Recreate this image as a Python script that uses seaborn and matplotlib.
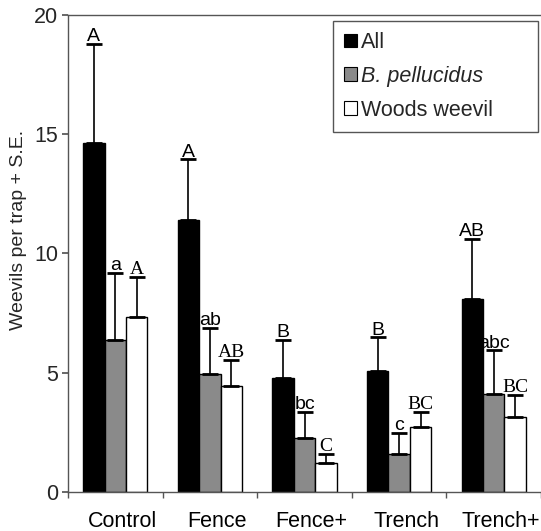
import numpy as np
import pandas as pd
import matplotlib
matplotlib.use("Agg")
import matplotlib.pyplot as plt
import matplotlib.transforms as mtransforms
from matplotlib.patches import Patch
import seaborn as sns

# values
groups = ["Control", "Fence", "Fence+", "Trench", "Trench+"]
series = ["All", "B. pellucidus", "Woods weevil"]
all_mean = [14.65, 11.4, 4.78, 5.08, 8.1]
all_se = [4.13, 2.55, 1.61, 1.40, 2.52]
bp_mean = [6.39, 4.94, 2.26, 1.61, 4.09]
bp_se = [2.81, 1.94, 1.09, 0.88, 1.85]
ww_mean = [7.32, 4.45, 1.23, 2.74, 3.15]
ww_se = [1.70, 1.10, 0.37, 0.63, 0.91]
all_letters = ["A", "A", "B", "B", "AB"]
bp_letters = ["a", "ab", "bc", "c", "abc"]
ww_letters = ["A", "AB", "C", "BC", "BC"]

ses = [all_se, bp_se, ww_se]
letters = [all_letters, bp_letters, ww_letters]

df = pd.DataFrame({
    "group": np.tile(groups, 3),
    "series": np.repeat(series, len(groups)),
    "mean": all_mean + bp_mean + ww_mean,
})

sns.set_theme(style="ticks")
plt.rcParams["font.family"] = ["Liberation Sans", "DejaVu Sans"]

colors = ["#000000", "#8a8a8a", "#ffffff"]
fig = plt.figure(figsize=(5.41, 5.31), dpi=100)
ax = fig.add_axes([0.1257, 0.0734, 0.8743, 0.8984])

sns.barplot(data=df, x="group", y="mean", hue="series", order=groups,
            hue_order=series, palette=colors, width=0.68, gap=0,
            errorbar=None, edgecolor="black", linewidth=1.0,
            saturation=1, legend=False, ax=ax)

label_font = [dict(family="Liberation Sans", size=14),
              dict(family="Liberation Sans", size=14),
              dict(family="Liberation Serif", size=14)]

# copy first: errorbar() adds its own containers
bar_conts = list(ax.containers)
for k, cont in enumerate(bar_conts):
    xs = [b.get_x() + b.get_width() / 2 for b in cont]
    hs = [b.get_height() for b in cont]
    ax.errorbar(xs, hs, yerr=[np.zeros(len(hs)), ses[k]], fmt="none",
                ecolor="black", elinewidth=1.2, capsize=6, capthick=2,
                zorder=3)
    for x, h, s, lab in zip(xs, hs, ses[k], letters[k]):
        ax.annotate(lab, (x, h + s), xytext=(0, 2), textcoords="offset points",
                    ha="center", va="baseline", color="black", **label_font[k])

ax.set_xlim(-0.5, 4.5)
ax.set_ylim(0, 20)
ax.set_yticks([0, 5, 10, 15, 20])
ax.set_xlabel("")
ax.set_ylabel("Weevils per trap + S.E.", fontsize=14)
ax.yaxis.set_label_coords(-0.087, 0.55)
ax.tick_params(axis="y", labelsize=15.5, length=4, color="#555555", pad=3)
ax.tick_params(axis="x", labelsize=15.5, length=0, pad=14, colors="black")
ax.set_xticks(np.arange(-0.5, 5.0, 1.0), minor=True)
ax.tick_params(axis="x", which="minor", length=4, color="#555555")

# category names sit a little right of the bar groups in the original
shift = mtransforms.ScaledTranslation(7 / 100, 0, fig.dpi_scale_trans)
for lbl in ax.get_xticklabels():
    lbl.set_transform(lbl.get_transform() + shift)

for side in ["left", "bottom", "top"]:
    ax.spines[side].set_color("#555555")
    ax.spines[side].set_linewidth(1.0)
ax.spines["right"].set_visible(False)

handles = [Patch(facecolor=c, edgecolor="black", linewidth=0.8) for c in colors]
leg = ax.legend(handles, series, loc="upper left",
                bbox_to_anchor=(0.560, 0.767, 0.434, 0.22), mode="expand",
                fontsize=15.5, frameon=True, fancybox=False,
                edgecolor="#555555", framealpha=1,
                handlelength=0.6, handleheight=0.6, handletextpad=0.2,
                labelspacing=0.6, borderpad=0.5, borderaxespad=0)
leg.get_frame().set_linewidth(1.0)
leg.get_texts()[1].set_fontstyle("italic")

fig.savefig("out.png", dpi=100)
